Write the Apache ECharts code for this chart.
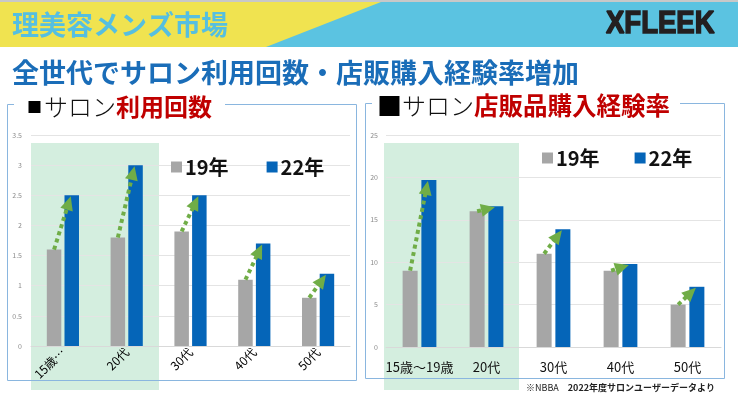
<!DOCTYPE html>
<html>
<head>
<meta charset="utf-8">
<script src="https://cdn.jsdelivr.net/npm/echarts@6/dist/echarts.min.js"></script>
<style>
  html, body { margin: 0; padding: 0; background: #fff; }
  #chart { width: 738px; height: 397px; }
</style>
</head>
<body>
<div id="chart"></div>
<script>
// ---- data ----
const categories = ['15歳～19歳', '20代', '30代', '40代', '50代'];
const leftTickLabels = ['15歳…', '20代', '30代', '40代', '50代'];
const seriesNames = ['19年', '22年'];
const visits2019 = [1.6, 1.8, 1.9, 1.1, 0.8];
const visits2022 = [2.5, 3.0, 2.5, 1.7, 1.2];
const purchase2019 = [9, 16, 11, 9, 5];
const purchase2022 = [19.7, 16.6, 13.9, 9.8, 7.1];
const visitsAxisMax = 3.5, visitsAxisStep = 0.5;
const purchaseAxisMax = 25, purchaseAxisStep = 5;

const headerText = '理美容メンズ市場';
const brandText = 'XFLEEK';
const mainTitle = '全世代でサロン利用回数・店販購入経験率増加';
const footnote1 = '※NBBA　';
const footnote2 = '2022年度サロンユーザーデータより';

// ---- style ----
const GRAY = '#a6a6a6';
const BLUE = '#0565b8';
const ARROW = '#70ad47';
const FONT = '"Noto Sans CJK JP", "Noto Sans", sans-serif';

const chart = echarts.init(document.getElementById('chart'));

function arrowRenderer(barW, gap) {
  return function (params, api) {
    const i = api.value(0);
    const pg = api.coord([i, api.value(1)]);
    const pb = api.coord([i, api.value(2)]);
    const off = (barW + gap) / 2;
    const sx = pg[0] - off, sy = pg[1];
    const tx = pb[0] + off - 1, ty = pb[1] + 1;
    const dx = tx - sx, dy = ty - sy;
    const len = Math.sqrt(dx * dx + dy * dy);
    const ux = dx / len, uy = dy / len;
    const nx = -uy, ny = ux;
    const headL = 14, headW = 13;
    const bx = tx - ux * headL, by = ty - uy * headL;
    const children = [];
    if (len > headL) {
      children.push({
        type: 'line',
        shape: { x1: sx, y1: sy, x2: bx + ux * 2, y2: by + uy * 2 },
        style: { stroke: ARROW, lineWidth: 4, lineDash: [4, 3.5] }
      });
    }
    children.push({
      type: 'polygon',
      shape: { points: [[tx, ty], [bx + nx * headW / 2, by + ny * headW / 2], [bx - nx * headW / 2, by - ny * headW / 2]] },
      style: { fill: ARROW }
    });
    return { type: 'group', children: children };
  };
}

const leftArrowData = categories.map((c, i) => [i, visits2019[i], visits2022[i]]);
const rightArrowData = categories.map((c, i) => [i, purchase2019[i], purchase2022[i]]);

const yAxisCommon = {
  type: 'value',
  min: 0,
  axisLine: { show: false },
  axisTick: { show: false },
  splitLine: { lineStyle: { color: '#e4e4e4', width: 1 } },
  axisLabel: { fontSize: 7, color: '#8c8c8c', fontFamily: FONT }
};

const option = {
  animation: false,
  textStyle: { fontFamily: FONT },
  title: [
    {
      left: 14, top: 93,
      padding: [0, 13, 0, 13],
      backgroundColor: '#fff',
      text: '{a|■}{b|サロン}{c|利用回数}',
      textStyle: {
        rich: {
          a: { fontSize: 15, color: '#000', fontFamily: FONT, lineHeight: 28, padding: [0, 2, 0, 0] },
          b: { fontSize: 24, color: '#111', fontFamily: FONT, fontWeight: 300, lineHeight: 28 },
          c: { fontSize: 24, color: '#c00000', fontFamily: FONT, fontWeight: 'bold', lineHeight: 28 }
        }
      }
    },
    {
      left: 372, top: 92,
      padding: [0, 10, 0, 5],
      backgroundColor: '#fff',
      text: '{a|■}{b|サロン}{c|店販品購入経験率}',
      textStyle: {
        rich: {
          a: { fontSize: 25, color: '#000', fontFamily: FONT, lineHeight: 28 },
          b: { fontSize: 24, color: '#111', fontFamily: FONT, fontWeight: 300, lineHeight: 28 },
          c: { fontSize: 24.5, color: '#c00000', fontFamily: FONT, fontWeight: 'bold', lineHeight: 28 }
        }
      }
    }
  ],
  legend: [
    {
      data: seriesNames, left: 171, top: 157, padding: 0,
      icon: 'rect', itemWidth: 11, itemHeight: 11, itemGap: 38,
      textStyle: { fontSize: 20, color: '#111', fontWeight: 'bold', fontFamily: FONT, padding: [0, 0, 0, -2] }
    },
    {
      data: seriesNames, left: 542, top: 148, padding: 0,
      icon: 'rect', itemWidth: 11, itemHeight: 11, itemGap: 35,
      textStyle: { fontSize: 20, color: '#111', fontWeight: 'bold', fontFamily: FONT, padding: [0, 0, 0, -2] }
    }
  ],
  grid: [
    { left: 31, right: 388, top: 135, bottom: 51 },
    { left: 386, right: 17, top: 135, bottom: 50 }
  ],
  xAxis: [
    {
      type: 'category', gridIndex: 0, data: leftTickLabels,
      axisLine: { lineStyle: { color: '#d9d9d9' } },
      axisTick: { show: false },
      axisLabel: { interval: 0, rotate: 45, fontSize: 12, color: '#000', margin: 4, fontFamily: FONT }
    },
    {
      type: 'category', gridIndex: 1, data: categories,
      axisLine: { lineStyle: { color: '#d9d9d9' } },
      axisTick: { show: false },
      axisLabel: { interval: 0, hideOverlap: false, fontSize: 13, color: '#111', margin: 14, fontFamily: FONT }
    }
  ],
  yAxis: [
    Object.assign({}, yAxisCommon, { gridIndex: 0, max: visitsAxisMax, interval: visitsAxisStep,
      axisLabel: Object.assign({}, yAxisCommon.axisLabel, { margin: 9 }) }),
    Object.assign({}, yAxisCommon, { gridIndex: 1, max: purchaseAxisMax, interval: purchaseAxisStep,
      axisLabel: Object.assign({}, yAxisCommon.axisLabel, { margin: 8 }) })
  ],
  series: [
    { name: seriesNames[0], type: 'bar', xAxisIndex: 0, yAxisIndex: 0, data: visits2019,
      barWidth: 14.5, barGap: '22%', itemStyle: { color: GRAY } },
    { name: seriesNames[1], type: 'bar', xAxisIndex: 0, yAxisIndex: 0, data: visits2022,
      barWidth: 14.5, barGap: '22%', itemStyle: { color: BLUE } },
    { name: seriesNames[0], type: 'bar', xAxisIndex: 1, yAxisIndex: 1, data: purchase2019,
      barWidth: 15, barGap: '25%', itemStyle: { color: GRAY } },
    { name: seriesNames[1], type: 'bar', xAxisIndex: 1, yAxisIndex: 1, data: purchase2022,
      barWidth: 15, barGap: '25%', itemStyle: { color: BLUE } },
    { type: 'custom', xAxisIndex: 0, yAxisIndex: 0, data: leftArrowData, z: 5,
      encode: { x: 0, y: [1, 2] }, renderItem: arrowRenderer(14.5, 3.2), silent: true },
    { type: 'custom', xAxisIndex: 1, yAxisIndex: 1, data: rightArrowData, z: 5,
      encode: { x: 0, y: [1, 2] }, renderItem: arrowRenderer(15, 3.75), silent: true }
  ],
  graphic: [
    { type: 'rect', z: -10, shape: { x: 0, y: 0, width: 738, height: 47 }, style: { fill: '#5bc3e1' } },
    { type: 'polygon', z: -9, shape: { points: [[0, 2], [381, 2], [266, 47], [0, 47]] }, style: { fill: '#f0e350' } },
    { type: 'rect', z: -8, shape: { x: 0, y: 0, width: 738, height: 2 }, style: { fill: '#c8c8c8' } },
    { type: 'text', z: -7, x: 12, y: 25,
      style: { text: headerText, font: 'bold 27px ' + FONT, fill: '#56bfe0', textVerticalAlign: 'middle' } },
    { type: 'text', z: -7, x: 606, y: 24, scaleX: 0.86,
      style: { text: brandText, font: 'bold 32px "Liberation Sans", Arial, sans-serif', fill: '#231f20',
        stroke: '#231f20', lineWidth: 1.6, textVerticalAlign: 'middle' } },
    { type: 'text', z: -7, x: 12, y: 73,
      style: { text: mainTitle, font: 'bold 27px ' + FONT, fill: '#1a6db8', textVerticalAlign: 'middle' } },
    { type: 'rect', z: -20, shape: { x: 31, y: 143, width: 128, height: 247 }, style: { fill: '#d4eedf' } },
    { type: 'rect', z: -20, shape: { x: 384, y: 143, width: 135, height: 247 }, style: { fill: '#d4eedf' } },
    { type: 'rect', z: -1, shape: { x: 7.5, y: 104.5, width: 349, height: 276 }, style: { fill: null, stroke: '#8ab6df', lineWidth: 1 } },
    { type: 'rect', z: -1, shape: { x: 365.5, y: 103.5, width: 359, height: 275 }, style: { fill: null, stroke: '#8ab6df', lineWidth: 1 } },
    { type: 'text', z: 10, x: 526, y: 388,
      style: {
        text: '{a|' + footnote1 + '}{b|' + footnote2 + '}',
        textVerticalAlign: 'middle',
        rich: {
          a: { fontSize: 9, fontFamily: FONT, fill: '#222' },
          b: { fontSize: 9, fontFamily: FONT, fontWeight: 'bold', fill: '#222' }
        }
      } }
  ]
};

chart.setOption(option);
</script>
</body>
</html>
